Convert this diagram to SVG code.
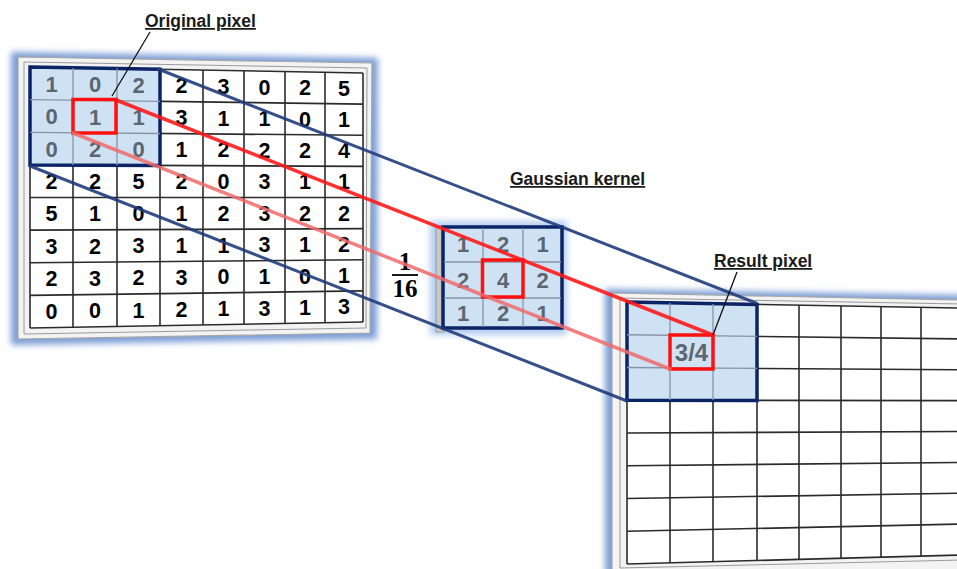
<svg xmlns="http://www.w3.org/2000/svg" width="957" height="569" viewBox="0 0 957 569">
<defs>
<filter id="glow" x="-10%" y="-10%" width="120%" height="120%"><feGaussianBlur stdDeviation="3"/></filter>
<style>
.bk{font-family:"Liberation Sans",Arial,sans-serif;font-weight:bold;font-size:21.5px;fill:#000;text-anchor:middle}
.gy{font-family:"Liberation Sans",Arial,sans-serif;font-weight:bold;font-size:22px;fill:#5b6670;text-anchor:middle}
.lbl{font-family:"Liberation Sans",Arial,sans-serif;font-weight:bold;font-size:17.5px;fill:#1a1a1a;text-decoration:underline}
.gl{stroke:#2b2b2b;stroke-width:1.6;fill:none}
.il{stroke:#8495a6;stroke-width:1.3;fill:none}
.hl{fill:#cfe2f3;stroke:#0b2466;stroke-width:3.5;stroke-linejoin:miter}
.red{fill:none;stroke:#ff1010;stroke-width:3.5}
.frame{fill:#f3f3f3;stroke:#a6a6a6;stroke-width:1.2}
.bevel{fill:none;stroke:#9a9a9a;stroke-width:1}
.glowc{fill:#7d9ed6;filter:url(#glow)}
.lead{stroke:#111;stroke-width:1.3;fill:none}
</style>
</defs>
<rect width="957" height="569" fill="#fff"/>

<g id="original-image">
<polygon class="glowc" points="11,52 378,58 377,339 11,345"/>
<polygon class="frame" points="18,57 372,63 370,333 18,339"/>
<polygon class="bevel" points="24,62 367,68 366,328 24,334"/>
<polygon fill="#fff" points="30,67 363,73 363,322 30,328"/>
<g class="gl">
<line x1="30" y1="67" x2="363" y2="73"/><line x1="30" y1="99.6" x2="363" y2="104.1"/><line x1="30" y1="132.3" x2="363" y2="135.3"/><line x1="30" y1="164.9" x2="363" y2="166.4"/><line x1="30" y1="197.5" x2="363" y2="197.5"/><line x1="30" y1="230.1" x2="363" y2="228.6"/><line x1="30" y1="262.8" x2="363" y2="259.8"/><line x1="30" y1="295.4" x2="363" y2="290.9"/><line x1="30" y1="328" x2="363" y2="322"/>
<line x1="30" y1="67" x2="30" y2="328"/><line x1="73" y1="67.8" x2="73" y2="327.2"/><line x1="117" y1="68.6" x2="117" y2="326.4"/><line x1="160" y1="69.3" x2="160" y2="325.7"/><line x1="203" y1="70.1" x2="203" y2="324.9"/><line x1="244" y1="70.9" x2="244" y2="324.1"/><line x1="285" y1="71.6" x2="285" y2="323.4"/><line x1="325" y1="72.3" x2="325" y2="322.7"/><line x1="363" y1="73" x2="363" y2="322"/>
</g>
<polygon class="hl" points="30,67 160,69.3 160,165.5 30,164.9"/>
<g class="il">
<line x1="73" y1="68" x2="73" y2="165"/><line x1="117" y1="68.6" x2="117" y2="165.3"/>
<line x1="30" y1="99.6" x2="160" y2="101.4"/><line x1="30" y1="132.3" x2="160" y2="133.5"/>
</g>
<rect class="red" x="73" y="99.5" width="43" height="33.5"/>
<text class="gy" x="51.5" y="91.6">1</text><text class="gy" x="95" y="92.3">0</text><text class="gy" x="138.5" y="93">2</text>
<text class="bk" x="181.5" y="93.2">2</text><text class="bk" x="223.5" y="93.9">3</text><text class="bk" x="264.5" y="94.5">0</text><text class="bk" x="305" y="95.1">2</text><text class="bk" x="344" y="95.8">5</text>
<text class="gy" x="51.5" y="124.1">0</text><text class="gy" x="95" y="124.6">1</text><text class="gy" x="138.5" y="125.1">1</text>
<text class="bk" x="181.5" y="125.1">3</text><text class="bk" x="223.5" y="125.6">1</text><text class="bk" x="264.5" y="126">1</text><text class="bk" x="305" y="126.5">0</text><text class="bk" x="344" y="126.9">1</text>
<text class="gy" x="51.5" y="156.7">0</text><text class="gy" x="95" y="157">2</text><text class="gy" x="138.5" y="157.3">0</text>
<text class="bk" x="181.5" y="157.1">1</text><text class="bk" x="223.5" y="157.4">2</text><text class="bk" x="264.5" y="157.7">2</text><text class="bk" x="305" y="158">2</text><text class="bk" x="344" y="158.2">4</text>
<text class="bk" x="51.5" y="188.7">2</text><text class="bk" x="95" y="188.8">2</text><text class="bk" x="138.5" y="188.9">5</text><text class="bk" x="181.5" y="189">2</text><text class="bk" x="223.5" y="189.1">0</text><text class="bk" x="264.5" y="189.2">3</text><text class="bk" x="305" y="189.3">1</text><text class="bk" x="344" y="189.4">1</text>
<text class="bk" x="51.5" y="221.3">5</text><text class="bk" x="95" y="221.2">1</text><text class="bk" x="138.5" y="221.1">0</text><text class="bk" x="181.5" y="221">1</text><text class="bk" x="223.5" y="220.9">2</text><text class="bk" x="264.5" y="220.8">3</text><text class="bk" x="305" y="220.7">2</text><text class="bk" x="344" y="220.6">2</text>
<text class="bk" x="51.5" y="253.8">3</text><text class="bk" x="95" y="253.5">2</text><text class="bk" x="138.5" y="253.2">3</text><text class="bk" x="181.5" y="252.9">1</text><text class="bk" x="223.5" y="252.6">1</text><text class="bk" x="264.5" y="252.3">3</text><text class="bk" x="305" y="252">1</text><text class="bk" x="344" y="251.8">2</text>
<text class="bk" x="51.5" y="286.4">2</text><text class="bk" x="95" y="285.9">3</text><text class="bk" x="138.5" y="285.4">2</text><text class="bk" x="181.5" y="284.9">3</text><text class="bk" x="223.5" y="284.4">0</text><text class="bk" x="264.5" y="284">1</text><text class="bk" x="305" y="283.5">0</text><text class="bk" x="344" y="283.1">1</text>
<text class="bk" x="51.5" y="318.9">0</text><text class="bk" x="95" y="318.2">0</text><text class="bk" x="138.5" y="317.5">1</text><text class="bk" x="181.5" y="316.8">2</text><text class="bk" x="223.5" y="316.1">1</text><text class="bk" x="264.5" y="315.5">3</text><text class="bk" x="305" y="314.9">1</text><text class="bk" x="344" y="314.2">3</text>
</g>

<g id="gaussian-kernel">
<rect class="glowc" x="430" y="221" width="137" height="114" style="fill:#b4cdf0"/>
<rect x="436" y="226" width="8" height="106" fill="#c8c8c8" stroke="#9a9a9a" stroke-width="1"/>
<rect class="hl" x="443" y="227" width="119" height="101"/>
<g class="il">
<line x1="483" y1="228" x2="483" y2="327"/><line x1="523" y1="228" x2="523" y2="327"/>
<line x1="444" y1="262" x2="561" y2="262"/><line x1="444" y1="298" x2="561" y2="298"/>
</g>
<rect class="red" x="482.5" y="260" width="40.5" height="37"/>
<text class="gy" x="463" y="252">1</text><text class="gy" x="503" y="252">2</text><text class="gy" x="542.5" y="252">1</text>
<text class="gy" x="463" y="288">2</text><text class="gy" x="503" y="288">4</text><text class="gy" x="542.5" y="288">2</text>
<text class="gy" x="463" y="321">1</text><text class="gy" x="503" y="321">2</text><text class="gy" x="542.5" y="321">1</text>
</g>

<g id="fraction">
<text x="405" y="270" font-family="Liberation Serif,serif" font-weight="bold" font-size="25" text-anchor="middle" fill="#000">1</text>
<line x1="392" y1="275" x2="418" y2="275" stroke="#000" stroke-width="1.8"/>
<text x="405" y="297" font-family="Liberation Serif,serif" font-weight="bold" font-size="25" text-anchor="middle" fill="#000">16</text>
</g>

<g id="result-image">
<polygon class="glowc" points="605,289 962,295 962,575 605,575"/>
<polygon class="frame" points="612,293 962,300 962,575 612,575"/>
<polygon class="bevel" points="620,298 962,304 962,560 620,568"/>
<polygon fill="#fff" points="627,302 962,308 962,555 627,564"/>
<g class="gl">
<line x1="627" y1="302" x2="960" y2="308.1"/><line x1="627" y1="334.75" x2="960" y2="338.9"/><line x1="627" y1="367.5" x2="960" y2="369.8"/><line x1="627" y1="400.25" x2="960" y2="400.6"/><line x1="627" y1="433" x2="960" y2="431.5"/><line x1="627" y1="465.75" x2="960" y2="462.4"/><line x1="627" y1="498.5" x2="960" y2="493.2"/><line x1="627" y1="531.25" x2="960" y2="524.1"/><line x1="627" y1="564" x2="960" y2="555"/>
<line x1="627" y1="302" x2="627" y2="564"/><line x1="670" y1="302.8" x2="670" y2="562.8"/><line x1="713" y1="303.6" x2="713" y2="561.7"/><line x1="757" y1="304.4" x2="757" y2="560.5"/><line x1="799" y1="305.1" x2="799" y2="559.3"/><line x1="841" y1="305.9" x2="841" y2="558.2"/><line x1="881" y1="306.6" x2="881" y2="557.1"/><line x1="921" y1="307.3" x2="921" y2="556"/>
</g>
<polygon class="hl" points="627,302 757,304.4 757,400.4 627,400.25"/>
<g class="il">
<line x1="670" y1="303" x2="670" y2="400"/><line x1="713" y1="304" x2="713" y2="400"/>
<line x1="627" y1="334.75" x2="757" y2="336.4"/><line x1="627" y1="367.5" x2="757" y2="368.4"/>
</g>
<rect class="red" x="670" y="335" width="43" height="34"/>
<text class="gy" x="691.5" y="361" style="font-size:24px">3/4</text>
</g>

<g id="connectors" fill="none" stroke-linecap="round">
<line x1="158" y1="69" x2="756" y2="303" stroke="#203c7c" stroke-width="3" stroke-opacity="0.9"/>
<line x1="30" y1="166" x2="627" y2="401" stroke="#203c7c" stroke-width="3" stroke-opacity="0.9"/>
<line x1="116" y1="100" x2="713" y2="335" stroke="#ff1a1a" stroke-width="3.5" stroke-opacity="0.9"/>
<line x1="73" y1="133" x2="670" y2="369" stroke="#f06a6a" stroke-width="3.5" stroke-opacity="0.85"/>
</g>

<g id="label-original">
<line class="lead" x1="150" y1="32" x2="112" y2="96"/>
<text class="lbl" x="145" y="27">Original pixel</text>
</g>
<g id="label-kernel">
<text class="lbl" x="510" y="185">Gaussian kernel</text>
</g>
<g id="label-result">
<line class="lead" x1="737" y1="272" x2="713" y2="335"/>
<text class="lbl" x="714" y="267">Result pixel</text>
</g>
</svg>
